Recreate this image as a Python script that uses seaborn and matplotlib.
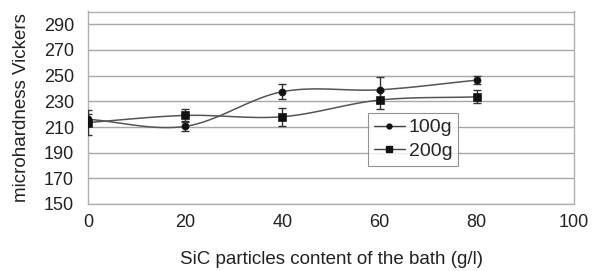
import numpy as np
import pandas as pd
import matplotlib
matplotlib.use("Agg")
import matplotlib.pyplot as plt
import seaborn as sns

sic = [0, 20, 40, 60, 80]
hv_100g = [216, 210.5, 237.5, 239, 246.5]
err_100g = [4, 4, 6, 10, 3]
hv_200g = [213.5, 219, 218, 231, 233.5]
err_200g = [10, 5, 7, 7, 5]
series_names = ["100g", "200g"]

rows = []
for name, vals, errs in [("100g", hv_100g, err_100g), ("200g", hv_200g, err_200g)]:
    for x, v, e in zip(sic, vals, errs):
        rows.append({"sic": x, "hv": v, "err": e, "series": name})
df = pd.DataFrame(rows)

sns.set_theme(style="white")
plt.rcParams['font.family'] = ['Liberation Sans', 'DejaVu Sans']

fig = plt.figure(figsize=(6.01, 2.71), dpi=100)
ax = fig.add_axes([88/601, 1-204/271, (574-88)/601, (204-11.5)/271])


def catmull(xs, ys, n=30):
    xs = np.asarray(xs, float); ys = np.asarray(ys, float)
    px = np.concatenate([[2*xs[0]-xs[1]], xs, [2*xs[-1]-xs[-2]]])
    py = np.concatenate([[2*ys[0]-ys[1]], ys, [2*ys[-1]-ys[-2]]])
    ox, oy = [], []
    for i in range(1, len(px)-2):
        t = np.linspace(0, 1, n, endpoint=False)
        for arr, out in ((px, ox), (py, oy)):
            p0, p1, p2, p3 = arr[i-1], arr[i], arr[i+1], arr[i+2]
            out.extend(0.5*((2*p1) + (-p0+p2)*t + (2*p0-5*p1+4*p2-p3)*t**2 + (-p0+3*p1-3*p2+p3)*t**3))
    ox.append(xs[-1]); oy.append(ys[-1])
    return np.array(ox), np.array(oy)

markers = {"100g": "o", "200g": "s"}
msize = {"100g": 4.5, "200g": 5}
for name in series_names:
    sub = df[df.series == name]
    cx, cy = catmull(sub.sic, sub.hv)
    sns.lineplot(x=cx, y=cy, ax=ax, color="#555555", lw=1.1, sort=False, zorder=3)
    ax.errorbar(sub.sic, sub.hv, yerr=sub.err, fmt="none", ecolor="#333333",
                elinewidth=1, capsize=3, capthick=1, zorder=4)
    sns.scatterplot(x=sub.sic, y=sub.hv, ax=ax, marker=markers[name], s=msize[name]**2*1.3,
                    color="#111111", edgecolor="#111111", zorder=5)
    ax.plot([], [], color="#444444", lw=1, marker=markers[name], ms=3.5 if name == "100g" else 4,
            mfc="#111111", mec="#111111", label=name)

ax.set_xlim(0, 100)
ax.set_ylim(150, 300)
ax.set_xticks([0, 20, 40, 60, 80, 100])
ax.set_yticks(np.arange(150, 300, 20))
ax.yaxis.grid(True, color="#a8a8a8", lw=1.0)
ax.set_axisbelow(True)
for s in ax.spines.values():
    s.set_color("#b0b0b0")
    s.set_linewidth(1.0)
ax.tick_params(axis="both", which="both", direction="out", length=6, width=1,
               color="#999999", labelsize=13, labelcolor="#222222")
ax.tick_params(axis="y", pad=4)
ax.tick_params(axis="x", pad=1.5)
ax.set_xlabel("SiC particles content of the bath (g/l)", fontsize=13.5, color="#222222")
ax.xaxis.set_label_coords(0.5, -(260-204)/192.5, transform=ax.transAxes)
ax.xaxis.label.set_va("center")
ax.set_ylabel("microhardness Vickers", fontsize=13.5, color="#222222")
ax.yaxis.set_label_coords(-(88-22)/486, 0.5, transform=ax.transAxes)
ax.yaxis.label.set_va("center")

leg = ax.legend(loc="upper left", bbox_to_anchor=((368-88)/486, 1-(113-11.5)/192.5),
                frameon=True, fontsize=14, handlelength=1.6, handletextpad=0.2,
                borderpad=0.3, labelspacing=0.3, fancybox=False, borderaxespad=0)
leg.get_frame().set_edgecolor("#777777")
leg.get_frame().set_linewidth(0.8)

fig.savefig("out.png", dpi=100)
